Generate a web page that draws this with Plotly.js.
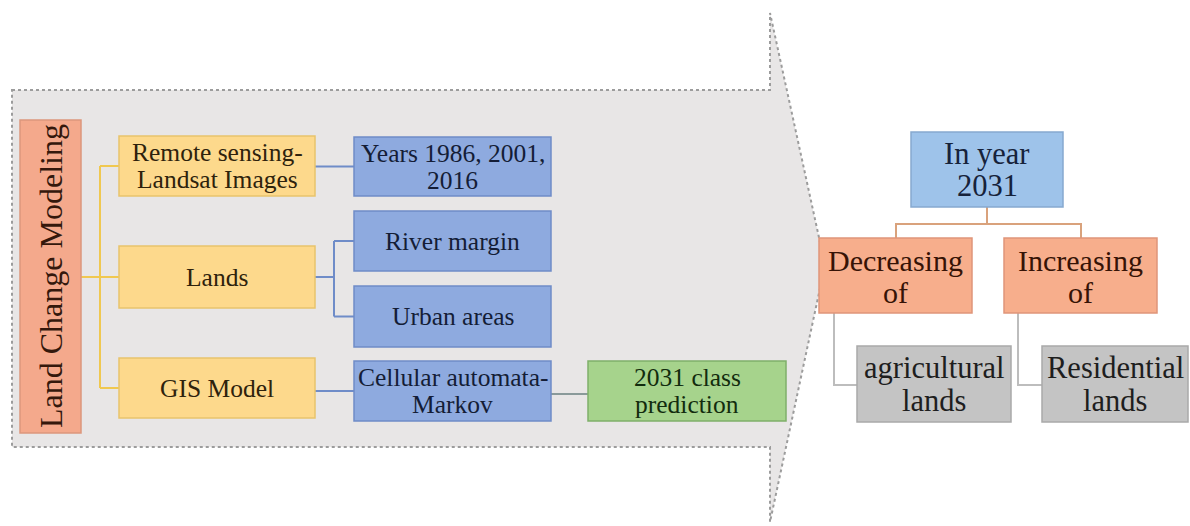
<!DOCTYPE html>
<html><head><meta charset="utf-8">
<script src="https://cdn.plot.ly/plotly-3.0.1.min.js"></script>
<style>html,body{margin:0;padding:0;background:#fff}#chart{width:1190px;height:526px}</style>
</head><body><div id="chart"></div>
<script>
// ---- content (text) ----
const rootLabel = [["Land Change Modeling"]];
const sourceLabels = [["Remote sensing-", "Landsat Images"], ["Lands"], ["GIS Model"]];
const methodLabels = [["Years 1986, 2001,", "2016"], ["River margin"], ["Urban areas"], ["Cellular automata-", "Markov"]];
const outputLabels = [["2031 class", "prediction"]];
const resultLabels = [["In year", "2031"]];
const trendLabels = [["Decreasing", "of"], ["Increasing", "of"]];
const landLabels = [["agricultural", "lands"], ["Residential", "lands"]];

// ---- layout geometry (pixel-like data coordinates) ----
const geo = {
  root:   [{x0: 20, x1: 81, y0: 120, y1: 433}],
  source: [{x0: 119, x1: 315, y0: 136, y1: 196}, {x0: 119, x1: 315, y0: 246, y1: 308}, {x0: 119, x1: 315, y0: 358, y1: 418}],
  method: [{x0: 354, x1: 551, y0: 137, y1: 196}, {x0: 354, x1: 551, y0: 211, y1: 271}, {x0: 354, x1: 551, y0: 286, y1: 347}, {x0: 354, x1: 551, y0: 361, y1: 421}],
  output: [{x0: 588, x1: 786, y0: 361, y1: 421}],
  result: [{x0: 911, x1: 1063, y0: 132, y1: 207}],
  trend:  [{x0: 819, x1: 972, y0: 238, y1: 313}, {x0: 1004, x1: 1157, y0: 238, y1: 313}],
  land:   [{x0: 857, x1: 1011, y0: 346, y1: 422}, {x0: 1042, x1: 1188, y0: 346, y1: 422}]
};

const styles = {
  root:   {fill: '#f4a98c', line: '#dc977c', text: '#34180c', size: 32, gap: 0, dy: 0, angle: -90},
  source: {fill: '#fdd98c', line: '#e8c46c', text: '#2e220c', size: 25.5, gap: 27, dy: 0},
  method: {fill: '#8eaadf', line: '#6f8cc8', text: '#141d36', size: 25.5, gap: 27, dy: 0},
  output: {fill: '#a6d38c', line: '#7fb06a', text: '#122c0e', size: 25.5, gap: 27, dy: 0},
  result: {fill: '#9ec3ea', line: '#86a9d0', text: '#16223a', size: 30.5, gap: 32, dy: 0},
  trend:  {fill: '#f7ae8c', line: '#e0957a', text: '#361306', size: 30, gap: 32, dy: 1},
  land:   {fill: '#c4c4c4', line: '#a9a9a9', text: '#1e1e1e', size: 30.5, gap: 33, dy: 0}
};
const labels = {root: rootLabel, source: sourceLabels, method: methodLabels, output: outputLabels,
                result: resultLabels, trend: trendLabels, land: landLabels};

const FONT = "'Liberation Serif', 'Times New Roman', 'DejaVu Serif', serif";
const shapes = [];
const annotations = [];

// big arrow background
shapes.push({type: 'path', xref: 'x', yref: 'y',
  path: 'M12,90 L770,90 L770,13 L825,265 L770,522 L770,447 L12,447 Z',
  fillcolor: '#e8e6e6', line: {color: '#9c9c9c', width: 2, dash: 'dot'}});

function conn(path, color) {
  shapes.push({type: 'path', xref: 'x', yref: 'y', path: path, line: {color: color, width: 2}});
}
// connectors
const yc = b => (b.y0 + b.y1) / 2;
const ylw = '#f0c850', blu = '#6f8cc8', brn = '#d9a27c', gry = '#bdbdbd';
const R = geo.root[0], S = geo.source, M = geo.method, O = geo.output[0];
conn(`M${R.x1},${yc(S[1])} L100,${yc(S[1])} M100,${yc(S[0])} L100,${yc(S[2])} M100,${yc(S[0])} L${S[0].x0},${yc(S[0])} M100,${yc(S[2])} L${S[2].x0},${yc(S[2])} M100,${yc(S[1])} L${S[1].x0},${yc(S[1])}`, ylw);
conn(`M${S[0].x1},${yc(M[0])} L${M[0].x0},${yc(M[0])}`, blu);
conn(`M${S[1].x1},${yc(S[1])} L334,${yc(S[1])} M334,${yc(M[1])} L334,${yc(M[2])} M334,${yc(M[1])} L${M[1].x0},${yc(M[1])} M334,${yc(M[2])} L${M[2].x0},${yc(M[2])}`, blu);
conn(`M${S[2].x1},${yc(M[3])} L${M[3].x0},${yc(M[3])}`, blu);
conn(`M${M[3].x1},${yc(O) + 3} L${O.x0},${yc(O) + 3}`, '#8a9a9a');
const Rs = geo.result[0], T = geo.trend, L = geo.land;
const rmx = (Rs.x0 + Rs.x1) / 2;
conn(`M${rmx},${Rs.y1} L${rmx},224 M896,${T[0].y0} L896,224 L1081,224 L1081,${T[1].y0}`, brn);
conn(`M834,${T[0].y1} L834,385 L${L[0].x0},385`, gry);
conn(`M1018,${T[1].y1} L1018,385 L${L[1].x0},385`, gry);

// boxes + text
Object.keys(geo).forEach(k => {
  const st = styles[k];
  geo[k].forEach((b, i) => {
    shapes.push({type: 'rect', xref: 'x', yref: 'y', x0: b.x0, x1: b.x1, y0: b.y0, y1: b.y1,
      fillcolor: st.fill, line: {color: st.line, width: 1.5}});
    const lines = labels[k][i];
    const cx = (b.x0 + b.x1) / 2, cy = (b.y0 + b.y1) / 2 + st.dy;
    lines.forEach((t, j) => {
      const off = (j - (lines.length - 1) / 2) * st.gap;
      annotations.push({x: cx, y: cy + off, xref: 'x', yref: 'y', text: t, showarrow: false,
        xanchor: 'center', yanchor: 'middle', textangle: st.angle || 0,
        font: {family: FONT, size: st.size, color: st.text}});
    });
  });
});

const layout = {
  width: 1190, height: 526, margin: {l: 0, r: 0, t: 0, b: 0},
  paper_bgcolor: '#ffffff', plot_bgcolor: '#ffffff', showlegend: false,
  font: {family: FONT},
  xaxis: {range: [0, 1190], visible: false, fixedrange: true},
  yaxis: {range: [526, 0], visible: false, fixedrange: true},
  shapes: shapes, annotations: annotations
};
Plotly.newPlot('chart', [], layout, {staticPlot: true, displayModeBar: false});
</script></body></html>
